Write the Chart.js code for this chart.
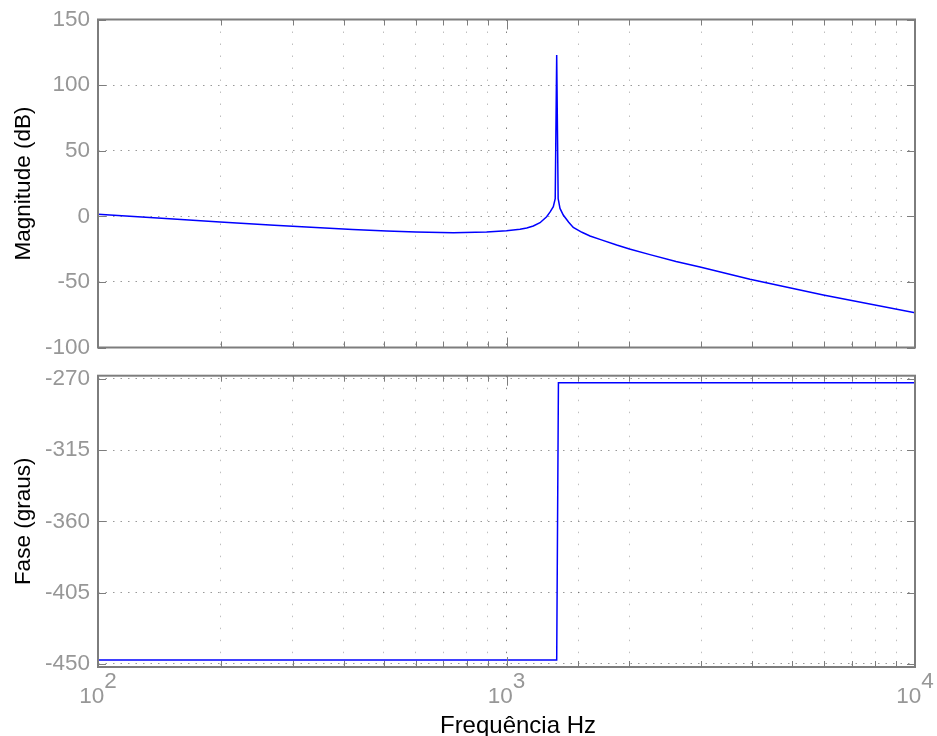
<!DOCTYPE html>
<html>
<head>
<meta charset="utf-8">
<title>Bode</title>
<script src="https://cdn.jsdelivr.net/npm/chart.js@4.4.0/dist/chart.umd.min.js"></script>
<style>
  html, body { margin: 0; padding: 0; background: #fff; }
  #wrap { position: relative; width: 937px; height: 736px; }
  #wrap canvas { position: absolute; left: 0; }
</style>
</head>
<body>
<div id="wrap">
  <canvas id="mag" width="937" height="362" style="top:0"></canvas>
  <canvas id="phase" width="937" height="374" style="top:362px"></canvas>
</div>
<script>
// значения
const MAG_FREQ = [100, 140, 199, 270, 350, 420, 509, 600, 741, 894, 1000, 1079, 1121, 1163, 1208, 1254, 1280, 1302,
                  1316, 1327, 1338, 1352, 1377, 1420, 1457, 1530, 1601, 1700, 1861, 2000, 2245, 2600, 2977, 3945, 5964, 10000];
const MAG_DB   = [1.5, -1.3, -4.3, -6.8, -8.8, -10.1, -11.2, -12.0, -12.5, -12.0, -11.0, -9.9, -8.9, -7.4, -4.9, -0.3, 3.5, 7.3,
                  13.5, 122.9, 13.5, 6.0, 1.0, -4.5, -8.5, -12.2, -15.0, -17.8, -21.9, -24.9, -29.2, -34.4, -38.7, -48.0, -60.0, -73.5];

const PHASE_FREQ = [100, 1327, 1340, 10000];
const PHASE_DEG  = [-447.5, -447.5, -272.5, -272.5];

const MAG_TICKS   = [-100, -50, 0, 50, 100, 150];
const PHASE_TICKS = [-450, -405, -360, -315, -270];
const FREQ_DECADES = [2, 3, 4];

const MAG_TITLE   = 'Magnitude (dB)';
const PHASE_TITLE = 'Fase (graus)';
const FREQ_TITLE  = 'Frequência Hz';

const FONT = '"Liberation Sans", Arial, Helvetica, sans-serif';
const LABEL_GRAY = '#979797';
const AXIS_GRAY = '#7d7d7d';
const LINE_BLUE = '#0000ff';

Chart.defaults.font.family = FONT;

function isDecade(v) {
    const l = Math.log10(v);
    return Math.abs(l - Math.round(l)) < 1e-9;
}

// рамка, внутренние засечки и подписи оси X (10^n)
const framePlugin = {
    id: 'frame',
    afterDraw(chart, args, opts) {
        const { ctx, chartArea: a, scales: { x, y } } = chart;
        ctx.save();
        ctx.strokeStyle = AXIS_GRAY;
        ctx.lineWidth = 1;
        ctx.beginPath();
        x.ticks.forEach(t => {
            const px = Math.round(x.getPixelForValue(t.value)) + 0.5;
            const len = isDecade(t.value) ? 10 : 6;
            ctx.moveTo(px, a.bottom); ctx.lineTo(px, a.bottom - len);
            ctx.moveTo(px, a.top); ctx.lineTo(px, a.top + len);
        });
        y.ticks.forEach(t => {
            const py = Math.round(y.getPixelForValue(t.value)) + 0.5;
            ctx.moveTo(a.left, py); ctx.lineTo(a.left + 8, py);
            ctx.moveTo(a.right, py); ctx.lineTo(a.right - 8, py);
        });
        ctx.stroke();
        ctx.lineWidth = 2;
        ctx.strokeRect(a.left, a.top, a.right - a.left, a.bottom - a.top);

        if (opts.xLabels) {
            ctx.font = '22.5px ' + FONT;
            ctx.textBaseline = 'alphabetic';
            ctx.textAlign = 'left';
            ctx.fillStyle = LABEL_GRAY;
            FREQ_DECADES.forEach(e => {
                const px = x.getPixelForValue(Math.pow(10, e));
                const wBase = ctx.measureText('10').width;
                const wExp = ctx.measureText(String(e)).width;
                const x0 = px - (wBase + wExp) / 2;
                ctx.fillText('10', x0, opts.baseY);
                ctx.fillText(String(e), x0 + wBase, opts.baseY - 15);
            });
            ctx.fillStyle = '#000';
            ctx.textAlign = 'center';
            ctx.font = '24px ' + FONT;
            ctx.fillText(FREQ_TITLE, 518, opts.titleY);
        }
        ctx.restore();
    }
};

function makeChart(canvasId, freqs, values, yMin, yMax, yTicks, yTitle, padTop, xAxisHeight, frameOpts) {
    return new Chart(document.getElementById(canvasId), {
        type: 'line',
        data: {
            datasets: [{
                data: freqs.map((f, i) => ({ x: f, y: values[i] })),
                borderColor: LINE_BLUE,
                borderWidth: 1.5,
                pointRadius: 0,
                tension: 0,
                fill: false
            }]
        },
        options: {
            responsive: false,
            animation: false,
            events: [],
            layout: { padding: { top: padTop, right: 22, left: 0, bottom: 0 } },
            plugins: {
                legend: { display: false },
                tooltip: { enabled: false },
                frame: frameOpts
            },
            scales: {
                x: {
                    type: 'logarithmic',
                    min: 100,
                    max: 10000,
                    ticks: { display: false },
                    grid: {
                        drawTicks: false,
                        color: c => isDecade(c.tick.value) ? 'rgba(0,0,0,0.5)' : 'rgba(0,0,0,0.25)',
                        lineWidth: 1
                    },
                    border: { display: false, dash: [1.5, 10.5] },
                    afterFit: s => {
                        s.height = xAxisHeight;
                        s.paddingLeft = 0; s.paddingRight = 0;
                    }
                },
                y: {
                    min: yMin,
                    max: yMax,
                    afterBuildTicks: s => { s.ticks = yTicks.map(v => ({ value: v })); },
                    ticks: {
                        color: LABEL_GRAY,
                        font: { size: 22.5 },
                        padding: 8,
                        autoSkip: false
                    },
                    grid: {
                        drawTicks: false,
                        color: 'rgba(0,0,0,0.4)',
                        lineWidth: 1
                    },
                    border: { display: false, dash: [1.5, 6] },
                    title: {
                        display: true,
                        text: yTitle,
                        color: '#000',
                        font: { size: 22.5 },
                        padding: { top: 10, bottom: 0 }
                    },
                    afterFit: s => {
                        s.width = 98;
                        s.paddingTop = 0; s.paddingBottom = 0;
                    }
                }
            }
        },
        plugins: [framePlugin]
    });
}

makeChart('mag', MAG_FREQ, MAG_DB, -100, 150, MAG_TICKS, MAG_TITLE, 19.5, 14.5, { xLabels: false });
makeChart('phase', PHASE_FREQ, PHASE_DEG, -452, -268, PHASE_TICKS, PHASE_TITLE, 13.7, 69,
    { xLabels: true, baseY: 703 - 362, titleY: 732.7 - 362 });
</script>
</body>
</html>
